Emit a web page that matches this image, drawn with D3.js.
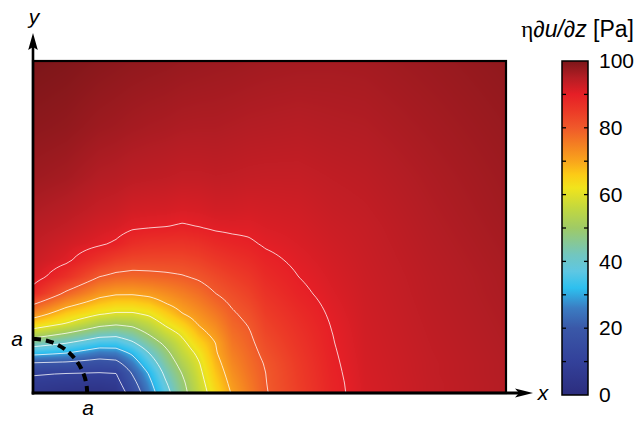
<!DOCTYPE html>
<html>
<head>
<meta charset="utf-8">
<script src="https://cdn.jsdelivr.net/npm/d3@7"></script>
<style>
  html, body { margin: 0; padding: 0; background: #fff; }
  svg { display: block; font-family: "Liberation Sans", Arial, Helvetica, sans-serif; }
</style>
</head>
<body>
<svg id="chart" width="642" height="423"></svg>
<script>
// Node positions of the sampled shear-stress field (x along the wall, y away from it)
const xNodes = [0, 1, 2, 2.5, 3, 3.5, 4, 4.5, 5, 5.5, 6, 6.5, 7, 8, 9, 10, 12, 14.25];
const yNodes = [0, 0.3, 0.6, 0.9, 1.2, 1.5, 1.8, 2.1, 2.4, 2.7, 3.0, 3.5, 4.0, 4.5, 5.0, 5.5, 6.5, 8, 10];

// η∂u/∂z [Pa]: one profile per x node, listed from y = 0 upward
const stressProfiles = [
  [5.0, 7.6, 10.9, 19.4, 32.4, 44.1, 55.2, 65.7, 74.0, 80.9, 88.0, 92.0, 93.0, 93.8, 94.6, 95.5, 97.0, 98.5, 100.0],
  [3.0, 6.5, 10.0, 18.6, 30.0, 40.0, 50.0, 60.0, 66.3, 72.6, 78.9, 86.9, 90.8, 92.2, 93.5, 94.5, 96.3, 98.0, 99.5],
  [2.5, 6.1, 9.6, 16.4, 25.0, 34.5, 43.8, 52.9, 61.0, 67.0, 72.3, 80.0, 86.3, 90.6, 92.0, 93.2, 95.0, 97.0, 98.8],
  [4.0, 7.0, 10.0, 17.5, 25.7, 34.3, 42.9, 51.4, 59.5, 65.3, 70.8, 78.5, 84.2, 89.5, 91.5, 92.8, 94.7, 96.7, 98.5],
  [14.0, 17.3, 20.8, 25.8, 31.3, 38.8, 45.6, 52.4, 59.5, 65.3, 70.7, 78.0, 83.1, 87.4, 90.5, 92.0, 94.2, 96.3, 98.2],
  [25.6, 28.0, 30.8, 35.4, 40.0, 45.5, 50.9, 56.1, 61.4, 66.8, 71.6, 78.4, 82.9, 86.6, 90.2, 91.8, 94.0, 96.0, 98.0],
  [37.0, 39.3, 42.0, 45.0, 48.0, 51.7, 56.7, 61.4, 65.7, 70.0, 73.3, 78.9, 82.9, 86.4, 90.0, 91.7, 93.8, 95.8, 97.8],
  [47.3, 48.5, 50.4, 53.0, 55.7, 58.3, 61.4, 65.7, 70.0, 72.6, 75.2, 79.6, 83.0, 86.3, 89.6, 91.3, 93.5, 95.5, 97.5],
  [56.0, 57.1, 58.3, 59.6, 61.6, 64.7, 67.9, 70.7, 72.9, 75.1, 77.3, 80.8, 83.9, 86.9, 90.0, 91.5, 93.5, 95.4, 97.3],
  [63.8, 65.2, 66.6, 68.0, 69.4, 70.0, 72.0, 74.0, 76.0, 78.0, 80.0, 82.6, 85.4, 88.1, 90.6, 92.0, 93.7, 95.4, 97.1],
  [70.6, 71.7, 72.8, 73.9, 75.0, 76.1, 77.2, 78.3, 79.4, 80.7, 82.0, 84.3, 86.6, 88.9, 90.8, 92.0, 93.6, 95.2, 97.0],
  [75.1, 75.8, 76.6, 77.3, 78.0, 78.8, 79.5, 80.4, 81.5, 82.7, 83.8, 85.7, 87.6, 89.5, 90.8, 91.8, 93.4, 95.0, 96.8],
  [79.6, 79.8, 79.95, 80.4, 81.3, 82.1, 83.0, 83.8, 84.7, 85.5, 86.4, 87.8, 89.1, 90.4, 91.3, 92.0, 93.3, 94.9, 96.6],
  [84.3, 84.6, 84.8, 85.1, 85.6, 86.1, 86.6, 87.2, 87.8, 88.5, 89.2, 90.0, 90.7, 91.3, 91.8, 92.3, 93.3, 94.7, 96.4],
  [88.9, 89.0, 89.2, 89.4, 89.6, 89.8, 89.95, 90.2, 90.5, 90.8, 91.1, 91.5, 91.9, 92.3, 92.7, 93.1, 93.8, 95.0, 96.3],
  [91.5, 91.6, 91.7, 91.8, 91.9, 92.0, 92.1, 92.2, 92.3, 92.4, 92.5, 92.7, 92.9, 93.1, 93.3, 93.6, 94.2, 95.2, 96.4],
  [93.5, 93.5, 93.6, 93.6, 93.7, 93.8, 93.9, 94.0, 94.1, 94.2, 94.3, 94.4, 94.6, 94.8, 95.0, 95.2, 95.6, 96.3, 97.2],
  [95.0, 95.0, 95.1, 95.1, 95.2, 95.3, 95.4, 95.5, 95.6, 95.7, 95.8, 95.9, 96.1, 96.3, 96.5, 96.7, 97.0, 97.5, 98.2]
];

// Contour levels and colour-bar annotation
const contourLevels = [10, 20, 30, 40, 50, 60, 70, 80, 90];
const colorbarLabels = [0, 20, 40, 60, 80, 100];
const colorbarMinorTicks = [10, 20, 30, 40, 50, 60, 70, 80, 90];

// Colour map stops
const cmapValues = [0, 10, 20, 26, 32, 37, 42, 50, 56, 62, 66, 70, 75, 80, 85, 90, 95, 100];
const cmapColors = ["#2c2d7e", "#33419a", "#3a58a8", "#3b7cc2", "#2dc0ef", "#5ec7e3", "#72c6bf",
                    "#9fca66", "#c3d83e", "#f1e41c", "#fccb16", "#f9a51c", "#f47f22", "#f0592a",
                    "#ec3a27", "#e61f26", "#b41d24", "#7c1619"];

// Cross-section a–a: quarter circle around the origin
const sectionRadius = 1.63;

const svg = d3.select("#chart");
const plot = { left: 33, right: 506, top: 61, bottom: 393 };
const xScale = d3.scaleLinear().domain([0, 14.25]).range([plot.left, plot.right]);
const yScale = d3.scaleLinear().domain([0, 10]).range([plot.bottom, plot.top]);
const color = d3.scaleLinear().domain(cmapValues).range(cmapColors)
  .interpolate(d3.interpolateRgb).clamp(true);

function fieldAt(x, y) {
  const i = Math.min(Math.max(d3.bisectRight(xNodes, x) - 1, 0), xNodes.length - 2);
  const j = Math.min(Math.max(d3.bisectRight(yNodes, y) - 1, 0), yNodes.length - 2);
  const tx = Math.min(Math.max((x - xNodes[i]) / (xNodes[i + 1] - xNodes[i]), 0), 1);
  const ty = Math.min(Math.max((y - yNodes[j]) / (yNodes[j + 1] - yNodes[j]), 0), 1);
  const a = stressProfiles[i][j], b = stressProfiles[i + 1][j];
  const c = stressProfiles[i][j + 1], d = stressProfiles[i + 1][j + 1];
  return a * (1 - tx) * (1 - ty) + b * tx * (1 - ty) + c * (1 - tx) * ty + d * tx * ty;
}

// Filled field, rasterised at one pixel per cell
const pw = plot.right - plot.left, ph = plot.bottom - plot.top;
const canvas = document.createElement("canvas");
canvas.width = pw; canvas.height = ph;
const ctx = canvas.getContext("2d");
const img = ctx.createImageData(pw, ph);
for (let r = 0; r < ph; r++) {
  const y = yScale.invert(plot.top + r + 0.5);
  for (let c = 0; c < pw; c++) {
    const x = xScale.invert(plot.left + c + 0.5);
    const col = d3.rgb(color(fieldAt(x, y)));
    const k = (r * pw + c) * 4;
    img.data[k] = col.r; img.data[k + 1] = col.g; img.data[k + 2] = col.b; img.data[k + 3] = 255;
  }
}
ctx.putImageData(img, 0, 0);

svg.append("defs").append("clipPath").attr("id", "plot-clip")
  .append("rect").attr("x", plot.left).attr("y", plot.top).attr("width", pw).attr("height", ph);

svg.append("image")
  .attr("x", plot.left).attr("y", plot.top)
  .attr("width", pw).attr("height", ph)
  .attr("preserveAspectRatio", "none")
  .attr("href", canvas.toDataURL());

// Contour lines
const cell = 2;
const nx = Math.ceil(pw / cell), ny = Math.ceil(ph / cell);
const grid = new Float64Array(nx * ny);
for (let r = 0; r < ny; r++) {
  const y = yScale.invert(plot.top + (r + 0.5) * cell);
  for (let c = 0; c < nx; c++) {
    grid[r * nx + c] = fieldAt(xScale.invert(plot.left + (c + 0.5) * cell), y);
  }
}
const contours = d3.contours().size([nx, ny]).thresholds(contourLevels)(grid);
const toPlot = d3.geoTransform({
  point(x, y) { this.stream.point(plot.left + x * cell, plot.top + y * cell); }
});
svg.append("g").attr("clip-path", "url(#plot-clip)")
  .selectAll("path").data(contours).join("path")
  .attr("d", d3.geoPath(toPlot))
  .attr("fill", "none")
  .attr("stroke", "#ffffff")
  .attr("stroke-opacity", 0.85)
  .attr("stroke-width", 0.9)
  .attr("stroke-linejoin", "round");

// Section a–a
const arcPts = d3.range(0, 91, 3).map(deg => {
  const t = deg * Math.PI / 180;
  return [sectionRadius * Math.sin(t), sectionRadius * Math.cos(t)];
});
svg.append("path")
  .attr("d", d3.line().x(d => xScale(d[0])).y(d => yScale(d[1]))(arcPts))
  .attr("fill", "none").attr("stroke", "#000").attr("stroke-width", 4)
  .attr("stroke-dasharray", "8,5");

// Frame and axes with arrows
svg.append("rect")
  .attr("x", plot.left).attr("y", plot.top).attr("width", pw).attr("height", ph)
  .attr("fill", "none").attr("stroke", "#000").attr("stroke-width", 2.2);
svg.append("line").attr("x1", plot.left).attr("x2", plot.left)
  .attr("y1", plot.bottom + 1.5).attr("y2", 46).attr("stroke", "#000").attr("stroke-width", 2.6);
svg.append("line").attr("x1", plot.left - 1.3).attr("x2", 520)
  .attr("y1", plot.bottom).attr("y2", plot.bottom).attr("stroke", "#000").attr("stroke-width", 3);
svg.append("path")
  .attr("d", `M${plot.left},33 L${plot.left + 4.8},50 L${plot.left},47 L${plot.left - 4.8},50 Z`)
  .attr("fill", "#000");
svg.append("path")
  .attr("d", `M533,${plot.bottom} L515,${plot.bottom - 4.5} L519,${plot.bottom} L515,${plot.bottom + 4.5} Z`)
  .attr("fill", "#000");

const labelStyle = s => s.attr("font-size", 21).attr("font-style", "italic").attr("fill", "#000");
svg.append("text").attr("x", 34).attr("y", 24).attr("text-anchor", "middle").text("y").call(labelStyle);
svg.append("text").attr("x", 543).attr("y", 400).attr("text-anchor", "middle").text("x").call(labelStyle);
svg.append("text").attr("x", 17).attr("y", 346).attr("text-anchor", "middle").text("a").call(labelStyle);
svg.append("text").attr("x", 88).attr("y", 415).attr("text-anchor", "middle").text("a").call(labelStyle);

// Colour bar
const cb = { left: 562, width: 26, top: 61, bottom: 395 };
const cbScale = d3.scaleLinear().domain([0, 100]).range([cb.bottom, cb.top]);
const grad = svg.select("defs").append("linearGradient")
  .attr("id", "cbar").attr("x1", 0).attr("y1", 1).attr("x2", 0).attr("y2", 0);
grad.selectAll("stop").data(cmapValues).join("stop")
  .attr("offset", d => d / 100)
  .attr("stop-color", (d, i) => cmapColors[i]);
svg.append("rect")
  .attr("x", cb.left).attr("y", cb.top).attr("width", cb.width).attr("height", cb.bottom - cb.top)
  .attr("fill", "url(#cbar)").attr("stroke", "#000").attr("stroke-width", 1.5);

const cbTicks = svg.append("g");
colorbarMinorTicks.forEach(v => {
  cbTicks.append("line").attr("x1", cb.left).attr("x2", cb.left + 4)
    .attr("y1", cbScale(v)).attr("y2", cbScale(v)).attr("stroke", "#000").attr("stroke-width", 1.3);
  cbTicks.append("line").attr("x1", cb.left + cb.width - 4).attr("x2", cb.left + cb.width)
    .attr("y1", cbScale(v)).attr("y2", cbScale(v)).attr("stroke", "#000").attr("stroke-width", 1.3);
});

const cbAxis = svg.append("g")
  .attr("transform", `translate(${cb.left + cb.width},0)`)
  .call(d3.axisRight(cbScale).tickValues(colorbarLabels).tickSize(0).tickPadding(11));
cbAxis.select(".domain").remove();
cbAxis.selectAll("text")
  .attr("font-size", 21).attr("font-family", "\"Liberation Sans\", Arial, sans-serif").attr("fill", "#000");

// Colour bar title
const title = svg.append("text").attr("x", 634).attr("y", 37).attr("text-anchor", "end")
  .attr("font-size", 23).attr("fill", "#000");
title.append("tspan").attr("font-family", "\"Liberation Serif\", \"DejaVu Serif\", serif").text("η");
title.append("tspan").attr("font-style", "italic").text("∂u/∂z");
title.append("tspan").text(" [Pa]");
</script>
</body>
</html>
